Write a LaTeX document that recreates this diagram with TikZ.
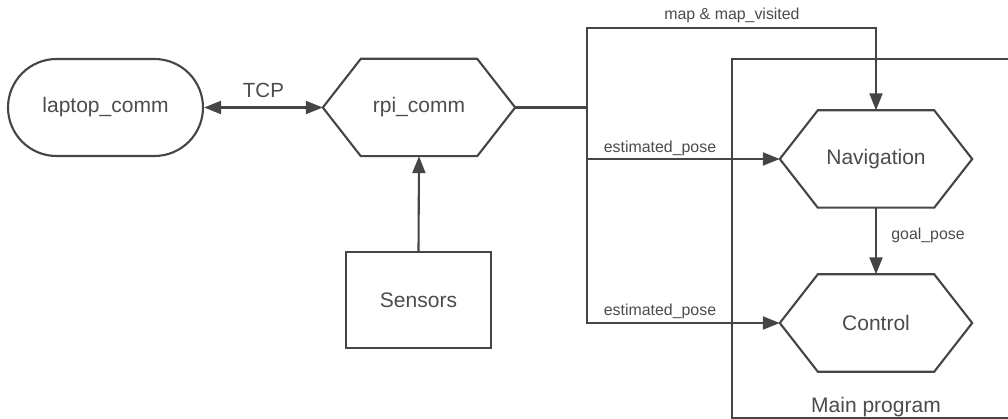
\documentclass[tikz,border=0pt]{standalone}
\usepackage{fontspec}
\setmainfont{Liberation Sans}
\usetikzlibrary{arrows.meta}
\definecolor{linec}{HTML}{454545}
\definecolor{textc}{HTML}{4c4c4c}
\tikzset{
  x=1pt, y=-1pt,
  every node/.style={text=textc},
  bigtext/.style={font=\fontsize{21}{24}\selectfont},
  smalltext/.style={font=\fontsize{15.9}{18}\selectfont},
  wire/.style={draw=linec, line width=2.1pt},
  tip/.style={Triangle[length=17pt,width=13pt]},
  arrow/.style={wire, -{Triangle[length=17pt,width=13pt]}},
  darrow/.style={wire, {Triangle[length=17pt,width=13pt]}-{Triangle[length=17pt,width=13pt]}},
  hexbox/.style={bigtext, rectangle, minimum width=192pt, minimum height=97pt, inner sep=0pt},
  stadium/.style={bigtext, draw=linec, line width=2.1pt, rectangle, rounded corners=48.5pt,
    minimum width=195pt, minimum height=97pt, inner sep=0pt},
  plainbox/.style={bigtext, draw=linec, line width=2.1pt, rectangle,
    minimum width=145pt, minimum height=96pt, inner sep=0pt},
  groupbox/.style={draw=linec, line width=2.1pt, rectangle, inner sep=0pt,
    minimum width=288pt, minimum height=359pt},
}
\begin{document}
\begin{tikzpicture}
\clip (0,0) rectangle (1008,419);
\fill[white] (0,0) rectangle (1008,419);

% main program container (runs past the right edge)
\node[groupbox] (main) at (876,238.5) {};
\node[bigtext, anchor=base] (mainlbl) at (876,412) {Main program};

% nodes
\node[stadium] (laptop) at (105.5,107.5) {laptop\_comm};
\node[hexbox] (rpi) at (419,107.5) {rpi\_comm};
\node[plainbox] (sens) at (418.5,300) {Sensors};
\node[hexbox] (nav) at (876,159) {Navigation};
\node[hexbox] (ctrl) at (876,323) {Control};

% hexagon outlines
\foreach \n in {rpi,nav,ctrl}
  \draw[wire, line join=miter] (\n.west) -- ([xshift=38pt]\n.north west) -- ([xshift=-38pt]\n.north east)
    -- (\n.east) -- ([xshift=-38pt]\n.south east) -- ([xshift=38pt]\n.south west) -- cycle;

% bus coordinates
\coordinate (bus) at (587,107.5);
\coordinate (bustop) at (587,28);
\coordinate (busnav) at (bus |- nav.west);

% connectors
\draw[darrow] (laptop.east) -- node[bigtext, font=\fontsize{20.5}{24}\selectfont, above=5pt] (tcp) {TCP} (rpi.west);
\draw[arrow] (sens.north) -- (rpi.south);
\draw[wire] (rpi.east) -- (bus);
\draw[arrow] (bus) -- (bustop) -| (nav.north);
\draw[arrow] (bus) |- (ctrl.west);
\draw[arrow] (busnav) -- (nav.west);
\draw[arrow] (nav.south) -- (ctrl.north);

% connector labels
\node[smalltext] (lmap) at (732,15) {map \& map\_visited};
\node[smalltext] (lest1) at (660,148) {estimated\_pose};
\node[smalltext] (lest2) at (660,311) {estimated\_pose};
\node[smalltext] (lgoal) at (928,235) {goal\_pose};
\end{tikzpicture}
\end{document}
